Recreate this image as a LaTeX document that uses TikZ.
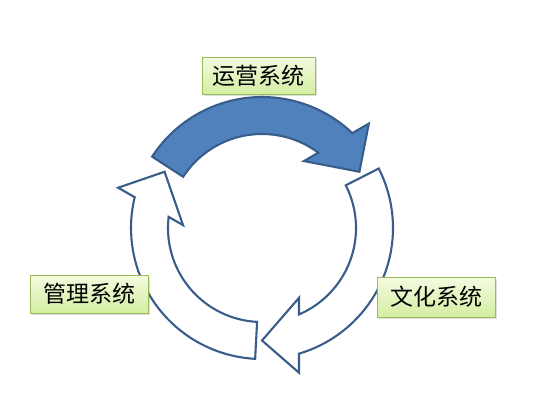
\documentclass[tikz,border=0pt]{standalone}
\usepackage{fontspec}
\newfontfamily\cjk{Noto Sans CJK SC}
\usetikzlibrary{shadows}
\definecolor{arrowblue}{HTML}{4F81BD}
\definecolor{arrowedge}{HTML}{385D8A}
\definecolor{boxedge}{HTML}{9BBB59}
\definecolor{boxtop}{HTML}{F4FBE0}
\definecolor{boxbottom}{HTML}{D3EEA2}
\tikzset{
  cyc/.pic={
    \path[pic actions] (117:131) arc[start angle=117,end angle=16.4,radius=131]
      -- (144.7,37) -- (112.5,0) -- (69.8,37) -- (23.2:94)
      arc[start angle=23.2,end angle=117,radius=94] -- cycle;
  },
  ring/.style={draw=arrowedge, line width=2.1pt, line join=miter},
  tagbox/.style={draw=boxedge, line width=0.9pt, top color=boxtop, bottom color=boxbottom,
    minimum width=116pt, minimum height=38pt, inner sep=0pt,
    font=\cjk\fontsize{23}{23}\selectfont,
    drop shadow={opacity=0.25, shadow xshift=1.5pt, shadow yshift=-1.5pt}}
}
\begin{document}
\begin{tikzpicture}[x=1pt,y=1pt]
\useasboundingbox (0,0) rectangle (549,-416);
\pic[ring, fill=arrowblue, rotate=30] at (262,-228) {cyc};
\pic[ring, fill=white, rotate=-90] at (262,-228) {cyc};
\pic[ring, fill=white, rotate=150] at (262,-228) {cyc};
\node[tagbox, minimum width=113pt, minimum height=37pt] (yy) at (258.5,-75.5) {运营系统};
\node[tagbox, minimum width=118pt] (gl) at (89,-294) {管理系统};
\node[tagbox, minimum width=118pt, minimum height=40pt] (wh) at (436,-297) {文化系统};
\end{tikzpicture}
\end{document}
